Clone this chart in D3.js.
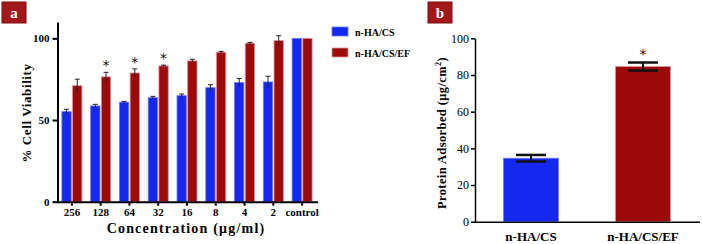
<!DOCTYPE html>
<html>
<head>
<meta charset="utf-8">
<script src="https://cdn.jsdelivr.net/npm/d3@7"></script>
<style>
  body { margin: 0; background: #fff; }
  svg { display: block; }
  text { font-family: "Liberation Serif", "Times New Roman", serif; }
  text.star { font-family: "DejaVu Sans", sans-serif; fill: #111; }
</style>
</head>
<body>
<script>
// panel a data
var concentrations = ["256", "128", "64", "32", "16", "8", "4", "2", "control"]
var seriesNames = ["n-HA/CS", "n-HA/CS/EF"]
var viabilityHACS = [55.1, 58.6, 60.9, 63.7, 64.9, 69.8, 72.9, 73.3, 100]
var viabilityHACSErr = [1.5, 1, 0.5, 0.8, 1, 1.8, 2.5, 3.5, 0]
var viabilityEF = [71, 76.4, 78.8, 83.1, 86.2, 91.5, 97, 98.6, 100]
var viabilityEFErr = [4, 2.8, 2.5, 0.5, 1, 0.5, 0.5, 3, 0]
var starred = ["128", "64", "32"]
var ticksA = [0, 50, 100]

// panel b data
var materials = ["n-HA/CS", "n-HA/CS/EF"]
var proteinAdsorbed = [34.6, 84.6]
var proteinErr = [1.8, 2.2]
var ticksB = [0, 20, 40, 60, 80, 100]

var colors = { "n-HA/CS": "#1528f0", "n-HA/CS/EF": "#9c0a0a" }
var strokes = { "n-HA/CS": "#6a78ff", "n-HA/CS/EF": "#d98f9f" }

var svg = d3.select("body").append("svg")
  .attr("width", 702)
  .attr("height", 244)

function badge(x, letter) {
  var g = svg.append("g").attr("transform", "translate(" + x + ",2)")
  g.append("rect")
    .attr("width", 24).attr("height", 21)
    .attr("fill", "#a3171a")
    .attr("stroke", "#7a0c0c")
  g.append("text")
    .attr("x", 12).attr("y", 15.5)
    .attr("text-anchor", "middle")
    .attr("fill", "#fff")
    .attr("font-weight", "bold")
    .attr("font-size", 15)
    .text(letter)
}

// ---------- panel a ----------
badge(2, "a")

var rows = concentrations.map(function(c, i) {
  return {
    c: c,
    vals: [
      { s: seriesNames[0], v: viabilityHACS[i], e: viabilityHACSErr[i] },
      { s: seriesNames[1], v: viabilityEF[i], e: viabilityEFErr[i] }
    ]
  }
})

var xA = d3.scaleBand().domain(concentrations).range([57.5, 316.5])
var xA1 = d3.scaleBand().domain(seriesNames).range([-10, 10]).paddingInner(0.13)
var yA = d3.scaleLinear().domain([0, 110]).range([201.7, 22])

var gA = svg.append("g")

var groups = gA.selectAll("g.conc")
  .data(rows)
  .enter().append("g")
    .attr("class", "conc")
    .attr("transform", function(d) {
      return "translate(" + (xA(d.c) + xA.bandwidth() / 2) + ",0)"
    })

var bar = groups.selectAll("g.bar")
  .data(function(d) { return d.vals })
  .enter().append("g")
    .attr("class", "bar")

bar.append("rect")
  .attr("x", function(d) { return xA1(d.s) })
  .attr("width", xA1.bandwidth())
  .attr("y", function(d) { return yA(d.v) })
  .attr("height", function(d) { return yA(0) - yA(d.v) })
  .attr("fill", function(d) { return colors[d.s] })
  .attr("stroke", function(d) { return strokes[d.s] })
  .attr("stroke-width", 0.8)

bar.filter(function(d) { return d.e > 0 }).each(function(d) {
  var g = d3.select(this)
  var cx = xA1(d.s) + xA1.bandwidth() / 2
  g.append("line")
    .attr("x1", cx).attr("x2", cx)
    .attr("y1", yA(d.v - d.e)).attr("y2", yA(d.v + d.e))
    .attr("stroke", "#222").attr("stroke-width", 1)
  g.append("line")
    .attr("x1", cx - 2.5).attr("x2", cx + 2.5)
    .attr("y1", yA(d.v + d.e)).attr("y2", yA(d.v + d.e))
    .attr("stroke", "#222").attr("stroke-width", 1)
})

groups.filter(function(d) { return starred.indexOf(d.c) >= 0 })
  .append("text")
    .attr("class", "star")
    .attr("x", xA1(seriesNames[1]) + xA1.bandwidth() / 2)
    .attr("y", function(d) { return yA(d.vals[1].v + d.vals[1].e) - 2 })
    .attr("text-anchor", "middle")
    .attr("font-size", 14)
    .text("*")

var axisA = gA.append("g")
  .attr("transform", "translate(57.5,0)")
  .call(d3.axisLeft(yA).tickValues(ticksA).tickSize(5).tickSizeOuter(0))
axisA.select(".domain").attr("stroke-width", 2)
axisA.selectAll(".tick line").attr("stroke-width", 2)
axisA.selectAll(".tick text")
  .attr("font-weight", "bold")
  .attr("font-size", 11)
  .attr("fill", "#000")

var axisAx = gA.append("g")
  .attr("transform", "translate(0,201.7)")
  .call(d3.axisBottom(xA).tickSize(4).tickSizeOuter(0).tickPadding(3))
axisAx.select(".domain").attr("stroke-width", 2)
  .attr("d", "M56.5,0.5H318")
axisAx.selectAll(".tick line").attr("stroke-width", 2)
axisAx.selectAll(".tick text")
  .attr("font-weight", "bold")
  .attr("font-size", 11)
  .attr("fill", "#000")

gA.append("text")
  .attr("transform", "translate(31,113) rotate(-90)")
  .attr("text-anchor", "middle")
  .attr("font-weight", "bold")
  .attr("font-size", 13)
  .attr("letter-spacing", 0.6)
  .text("% Cell Viability")

gA.append("text")
  .attr("x", 186).attr("y", 233)
  .attr("text-anchor", "middle")
  .attr("font-weight", "bold")
  .attr("font-size", 14)
  .attr("letter-spacing", 1.2)
  .text("Concentration (\u03bcg/ml)")

// legend
var legend = svg.selectAll("g.legend")
  .data(seriesNames)
  .enter().append("g")
    .attr("class", "legend")
    .attr("transform", function(d, i) {
      return "translate(332," + (27 + i * 21) + ")"
    })
legend.append("rect")
  .attr("width", 16).attr("height", 9)
  .attr("fill", function(d) { return colors[d] })
  .attr("stroke", function(d) { return strokes[d] })
  .attr("stroke-width", 0.8)
legend.append("text")
  .attr("x", 23).attr("y", 8.5)
  .attr("font-weight", "bold")
  .attr("font-size", 10)
  .text(function(d) { return d })

// ---------- panel b ----------
badge(428, "b")

var xB = d3.scaleBand().domain(materials).range([475, 699])
var yB = d3.scaleLinear().domain([0, 100]).range([221.7, 38.3])
var barW = xB.bandwidth() * 0.49

var gB = svg.append("g")

var barsB = gB.selectAll("g.barb")
  .data(materials)
  .enter().append("g")
    .attr("class", "barb")
    .attr("transform", function(d) {
      return "translate(" + (xB(d) + xB.bandwidth() / 2) + ",0)"
    })

barsB.append("rect")
  .attr("x", -barW / 2)
  .attr("width", barW)
  .attr("y", function(d, i) { return yB(proteinAdsorbed[i]) })
  .attr("height", function(d, i) { return yB(0) - yB(proteinAdsorbed[i]) })
  .attr("fill", function(d) { return colors[d] })
  .attr("stroke", function(d) { return strokes[d] })
  .attr("stroke-width", 0.8)

barsB.each(function(d, i) {
  var g = d3.select(this)
  var v = proteinAdsorbed[i], e = proteinErr[i]
  g.append("line")
    .attr("x1", 0).attr("x2", 0)
    .attr("y1", yB(v - e)).attr("y2", yB(v + e))
    .attr("stroke", "#111").attr("stroke-width", 2)
  ;[v - e, v + e].forEach(function(t) {
    g.append("line")
      .attr("x1", -15).attr("x2", 15)
      .attr("y1", yB(t)).attr("y2", yB(t))
      .attr("stroke", "#111").attr("stroke-width", 2.5)
  })
})

barsB.filter(function(d, i) { return i === 1 })
  .append("text")
    .attr("class", "star")
    .attr("y", yB(proteinAdsorbed[1] + proteinErr[1]) - 4)
    .attr("text-anchor", "middle")
    .attr("font-size", 14)
    .text("*")

var axisB = gB.append("g")
  .attr("transform", "translate(475,0)")
  .call(d3.axisLeft(yB).tickValues(ticksB).tickSize(4).tickSizeOuter(0).tickPadding(2))
axisB.select(".domain").attr("stroke-width", 1.5)
axisB.selectAll(".tick line").attr("stroke-width", 1.5)
axisB.selectAll(".tick text")
  .attr("font-size", 12)
  .attr("fill", "#000")

var axisBx = gB.append("g")
  .attr("transform", "translate(0,221.7)")
  .call(d3.axisBottom(xB).tickSize(0).tickSizeOuter(0).tickPadding(10))
axisBx.select(".domain").attr("stroke-width", 1.5)
  .attr("d", "M474.5,0.5H700")
axisBx.selectAll(".tick text")
  .attr("font-weight", "bold")
  .attr("font-size", 13)
  .attr("fill", "#000")

gB.append("text")
  .attr("transform", "translate(446,133) rotate(-90)")
  .attr("text-anchor", "middle")
  .attr("font-weight", "bold")
  .attr("font-size", 12.5)
  .attr("letter-spacing", 0.4)
  .html("Protein Adsorbed (\u03bcg/cm<tspan dy='-5' font-size='8'>2</tspan><tspan dy='5'>)</tspan>")
</script>
</body>
</html>
